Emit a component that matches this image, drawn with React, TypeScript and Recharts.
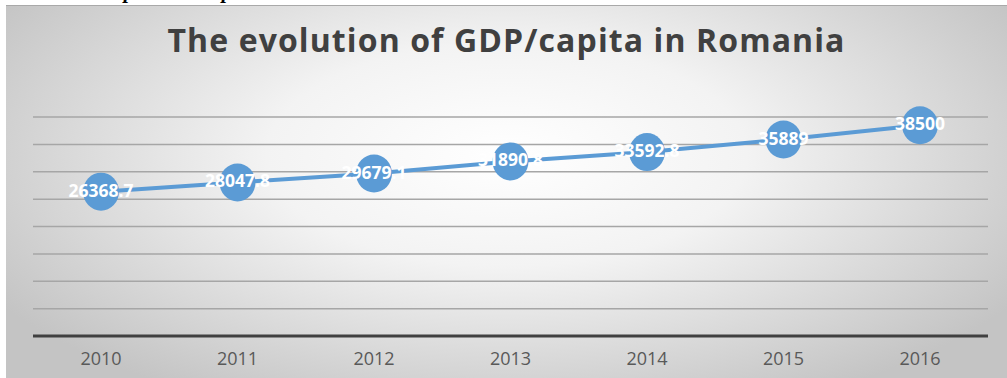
import React from 'react';
import { LineChart, Line, XAxis, YAxis, CartesianGrid, LabelList } from 'recharts';

const years = ['2010', '2011', '2012', '2013', '2014', '2015', '2016'];
const gdpPerCapita = [26368.7, 28047.8, 29679.1, 31890.8, 33592.8, 35889, 38500];
const yTicks = [0, 5000, 10000, 15000, 20000, 25000, 30000, 35000, 40000];
const titleText = 'The evolution of GDP/capita in Romania';
const captionText = 'Graph 1: GDP per head';

const data = years.map((y, i) => ({ year: y, value: gdpPerCapita[i] }));

const FONT = '"Open Sans", "DejaVu Sans", sans-serif';
const BLUE = '#5b9bd5';

const renderDot = (props: any) => {
  const { cx, cy, index } = props;
  return <ellipse key={`dot-${index}`} cx={cx} cy={cy} rx={18} ry={19} fill={BLUE} />;
};

const renderLabel = (props: any) => {
  const { x, y, value, index } = props;
  return (
    <text
      key={`lbl-${index}`}
      x={x}
      y={y - 2}
      textAnchor="middle"
      dominantBaseline="central"
      fill="#ffffff"
      fontFamily={FONT}
      fontWeight={700}
      fontSize={17.5}
    >
      {String(value)}
    </text>
  );
};

export default function App() {
  return (
    <div style={{ position: 'absolute', left: 0, top: 0, width: 1007, height: 378, overflow: 'hidden', background: '#ffffff' }}>
      <div
        style={{
          position: 'absolute',
          left: 90,
          top: -19,
          fontFamily: '"Liberation Serif", serif',
          fontStyle: 'italic',
          fontWeight: 700,
          fontSize: 21,
          lineHeight: '21px',
          whiteSpace: 'nowrap',
          color: '#000',
        }}
      >
        {captionText}
      </div>
      <div
        style={{
          position: 'absolute',
          left: 6,
          top: 5,
          width: 1001,
          height: 373,
          borderTop: '1px solid #a9a9a9',
          boxSizing: 'border-box',
          background: 'radial-gradient(ellipse 60% 75% at 50% 40%, #ffffff 0%, #f3f3f3 40%, #c4c4c4 100%)',
        }}
      >
        <div
          style={{
            position: 'absolute',
            left: 0,
            top: 18,
            width: 1001,
            textAlign: 'center',
            fontFamily: FONT,
            fontWeight: 700,
            fontSize: 32,
            letterSpacing: 1.1,
            lineHeight: '1',
            color: '#404040',
            whiteSpace: 'nowrap',
          }}
        >
          {titleText}
        </div>
        <div style={{ position: 'absolute', left: 0, top: -1 }}>
          <LineChart width={1001} height={370} data={data} margin={{ top: 112, right: 19, bottom: 9, left: 27 }}>
            <CartesianGrid horizontal={true} vertical={false} stroke="#a6a6a6" strokeWidth={1.5} />
            <YAxis hide domain={[0, 40000]} ticks={yTicks} />
            <XAxis
              dataKey="year"
              height={30}
              padding={{ left: 68, right: 68 }}
              axisLine={{ stroke: '#404040', strokeWidth: 3 }}
              tickLine={false}
              tick={{ fill: '#595959', fontSize: 18, fontFamily: FONT }}
              tickMargin={10}
            />
            <Line
              type="linear"
              dataKey="value"
              stroke={BLUE}
              strokeWidth={4}
              dot={renderDot}
              activeDot={false}
              isAnimationActive={false}
            >
              <LabelList dataKey="value" content={renderLabel} />
            </Line>
          </LineChart>
        </div>
      </div>
    </div>
  );
}
